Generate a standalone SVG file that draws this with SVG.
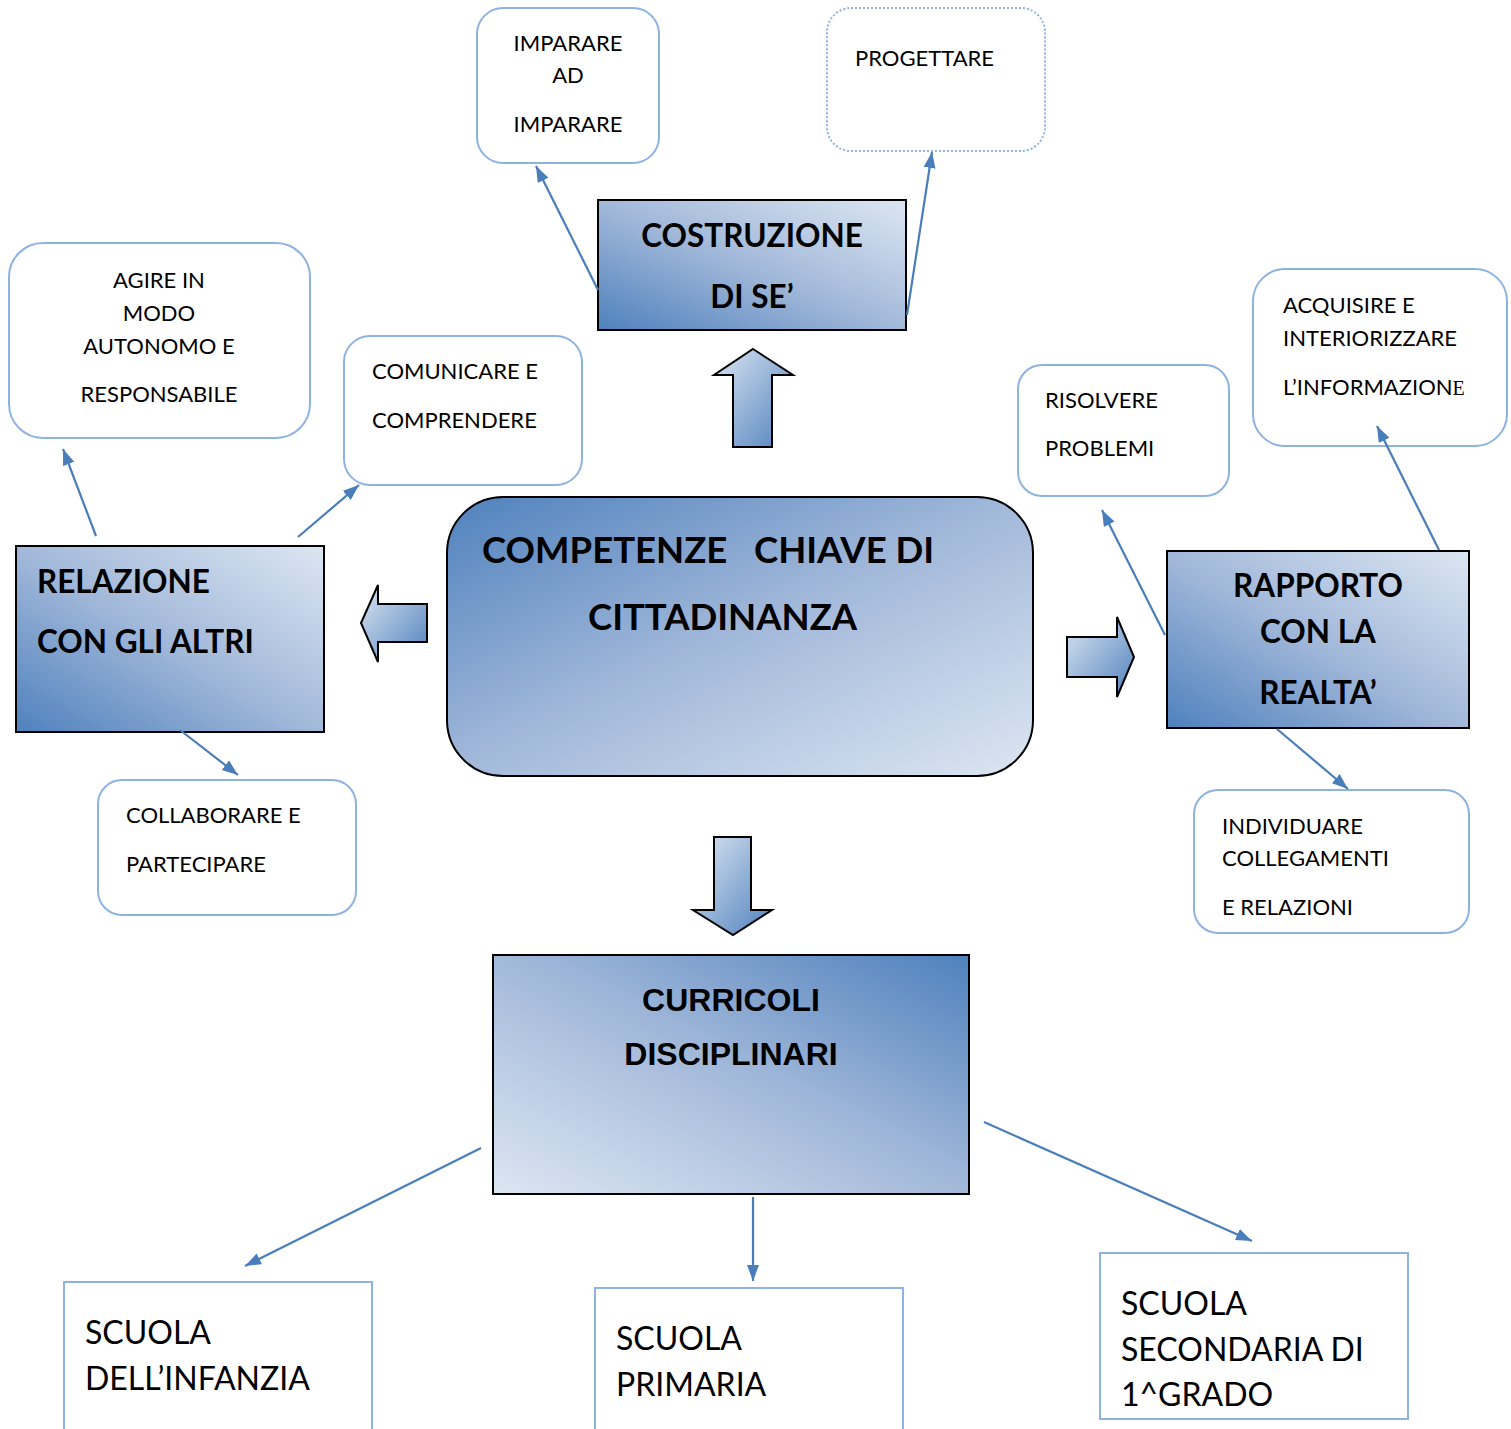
<svg xmlns="http://www.w3.org/2000/svg" width="1511" height="1429" viewBox="0 0 1511 1429">
<style>
.bx{fill:#fff;stroke:#8db3e2;stroke-width:2}
.dot{fill:#fff;stroke:#8db3e2;stroke-width:2;stroke-dasharray:2 2}
.sq{fill:#fff;stroke:#8db3e2;stroke-width:2}
.t{font-family:Lato,"Open Sans","Liberation Sans",sans-serif;font-size:22px;fill:#000}
.tl{font-family:Lato,"Open Sans","Liberation Sans",sans-serif;font-size:32px;fill:#000}
.tb{font-family:Lato,"Open Sans","Liberation Sans",sans-serif;font-weight:bold;font-size:31.5px;fill:#000}
.ta{font-family:"Liberation Sans",Arial,sans-serif;font-weight:bold;font-size:32px;fill:#000}
.blk{stroke:#000;stroke-width:2}
.c{fill:none;stroke:#4a7ebb;stroke-width:2.2;marker-end:url(#ah)}
</style>
<defs>
<marker id="ah" markerUnits="userSpaceOnUse" markerWidth="18" markerHeight="14" refX="16" refY="6" orient="auto">
<path d="M0,0 L16,6 L0,12 z" fill="#4a7ebb"/>
</marker>
<linearGradient id="gBL" x1="0" y1="1" x2="1" y2="0"><stop offset="0" stop-color="#4f81bd"/><stop offset="0.5" stop-color="#a3b9da"/><stop offset="1" stop-color="#dce6f2"/></linearGradient>
<linearGradient id="gTL" x1="0" y1="0" x2="1" y2="1"><stop offset="0" stop-color="#4f81bd"/><stop offset="0.5" stop-color="#a3b9da"/><stop offset="1" stop-color="#dce6f2"/></linearGradient>
<linearGradient id="gTR" x1="1" y1="0" x2="0" y2="1"><stop offset="0" stop-color="#4f81bd"/><stop offset="0.5" stop-color="#a3b9da"/><stop offset="1" stop-color="#dce6f2"/></linearGradient>
<linearGradient id="gAr" x1="0" y1="0" x2="1" y2="1"><stop offset="0" stop-color="#dce6f2"/><stop offset="1" stop-color="#4f81bd"/></linearGradient>
</defs>

<g id="block-arrows">
<path class="blk" fill="url(#gAr)" d="M753,349 L793,375 L772,375 L772,447 L733,447 L733,375 L714,375 Z"/>
<path class="blk" fill="url(#gAr)" d="M361,623 L378,585 L378,604 L427,604 L427,642 L378,642 L378,662 Z"/>
<path class="blk" fill="url(#gAr)" d="M1067,637 L1117,637 L1117,617 L1134,657 L1117,697 L1117,677 L1067,677 Z"/>
<path class="blk" fill="url(#gAr)" d="M714,837 L751,837 L751,910 L772,910 L733,935 L693,910 L714,910 Z"/>
</g>

<g id="n-competenze">
<rect class="blk" x="447" y="497" width="586" height="279" rx="56" fill="url(#gTL)"/>
<text class="tb" style="font-size:36.5px"><tspan x="482" y="563">COMPETENZE</tspan><tspan x="754" y="563">CHIAVE DI</tspan><tspan x="588" y="630">CITTADINANZA</tspan></text>
</g>

<g id="n-costruzione">
<rect class="blk" x="598" y="200" width="308" height="130" fill="url(#gBL)"/>
<text class="tb" text-anchor="middle"><tspan x="752" y="247">COSTRUZIONE</tspan><tspan x="752" y="308">DI SE’</tspan></text>
</g>

<g id="n-relazione">
<rect class="blk" x="16" y="546" width="308" height="186" fill="url(#gBL)"/>
<text class="tb"><tspan x="37" y="593">RELAZIONE</tspan><tspan x="37" y="653">CON GLI ALTRI</tspan></text>
</g>

<g id="n-rapporto">
<rect class="blk" x="1167" y="551" width="302" height="177" fill="url(#gBL)"/>
<text class="tb" text-anchor="middle"><tspan x="1318" y="597">RAPPORTO</tspan><tspan x="1318" y="643">CON LA</tspan><tspan x="1318" y="704">REALTA’</tspan></text>
</g>

<g id="n-curricoli">
<rect class="blk" x="493" y="955" width="476" height="239" fill="url(#gTR)"/>
<text class="ta" text-anchor="middle"><tspan x="731" y="1011">CURRICOLI</tspan><tspan x="731" y="1065">DISCIPLINARI</tspan></text>
</g>

<g id="n-imparare">
<rect class="bx" x="477" y="8" width="182" height="155" rx="26"/>
<text class="t" text-anchor="middle"><tspan x="568" y="51">IMPARARE</tspan><tspan x="568" y="83">AD</tspan><tspan x="568" y="132">IMPARARE</tspan></text>
</g>

<g id="n-progettare">
<rect class="dot" x="827" y="8" width="218" height="143" rx="24"/>
<text class="t" x="855" y="66">PROGETTARE</text>
</g>

<g id="n-agire">
<rect class="bx" x="9" y="243" width="301" height="195" rx="34"/>
<text class="t" text-anchor="middle"><tspan x="159" y="288">AGIRE IN</tspan><tspan x="159" y="321">MODO</tspan><tspan x="159" y="354">AUTONOMO E</tspan><tspan x="159" y="402">RESPONSABILE</tspan></text>
</g>

<g id="n-comunicare">
<rect class="bx" x="344" y="336" width="238" height="149" rx="26"/>
<text class="t"><tspan x="372" y="379">COMUNICARE E</tspan><tspan x="372" y="428">COMPRENDERE</tspan></text>
</g>

<g id="n-risolvere">
<rect class="bx" x="1018" y="365" width="211" height="131" rx="24"/>
<text class="t"><tspan x="1045" y="408">RISOLVERE</tspan><tspan x="1045" y="456">PROBLEMI</tspan></text>
</g>

<g id="n-acquisire">
<rect class="bx" x="1253" y="269" width="254" height="177" rx="32"/>
<text class="t"><tspan x="1283" y="313">ACQUISIRE E</tspan><tspan x="1283" y="346">INTERIORIZZARE</tspan><tspan x="1283" y="395">L’INFORMAZION<tspan style="font-family:'Liberation Serif',serif;font-size:20px">E</tspan></tspan></text>
</g>

<g id="n-collaborare">
<rect class="bx" x="98" y="780" width="258" height="135" rx="24"/>
<text class="t"><tspan x="126" y="823">COLLABORARE E</tspan><tspan x="126" y="872">PARTECIPARE</tspan></text>
</g>

<g id="n-individuare">
<rect class="bx" x="1194" y="790" width="275" height="143" rx="24"/>
<text class="t"><tspan x="1222" y="834">INDIVIDUARE</tspan><tspan x="1222" y="866">COLLEGAMENTI</tspan><tspan x="1222" y="915">E RELAZIONI</tspan></text>
</g>

<g id="n-infanzia">
<path class="sq" d="M64,1431 L64,1282 L372,1282 L372,1431"/>
<text class="tl"><tspan x="85" y="1344">SCUOLA</tspan><tspan x="85" y="1390">DELL’INFANZIA</tspan></text>
</g>

<g id="n-primaria">
<path class="sq" d="M595,1431 L595,1288 L903,1288 L903,1431"/>
<text class="tl"><tspan x="616" y="1350">SCUOLA</tspan><tspan x="616" y="1396">PRIMARIA</tspan></text>
</g>

<g id="n-secondaria">
<rect class="sq" x="1100" y="1253" width="308" height="166"/>
<text class="tl"><tspan x="1121" y="1315">SCUOLA</tspan><tspan x="1121" y="1361">SECONDARIA DI</tspan><tspan x="1121" y="1406">1^GRADO</tspan></text>
</g>

<g id="connectors">
<line class="c" x1="598" y1="290" x2="536" y2="166"/>
<line class="c" x1="907" y1="315" x2="932" y2="152"/>
<line class="c" x1="96" y1="536" x2="63" y2="449"/>
<line class="c" x1="298" y1="537" x2="359" y2="485"/>
<line class="c" x1="180" y1="730" x2="238" y2="775"/>
<line class="c" x1="1165" y1="635" x2="1102" y2="510"/>
<line class="c" x1="1439" y1="550" x2="1377" y2="426"/>
<line class="c" x1="1277" y1="729" x2="1348" y2="789"/>
<line class="c" x1="481" y1="1148" x2="245" y2="1266"/>
<line class="c" x1="753" y1="1197" x2="753" y2="1281"/>
<line class="c" x1="984" y1="1122" x2="1252" y2="1241"/>
</g>
</svg>
